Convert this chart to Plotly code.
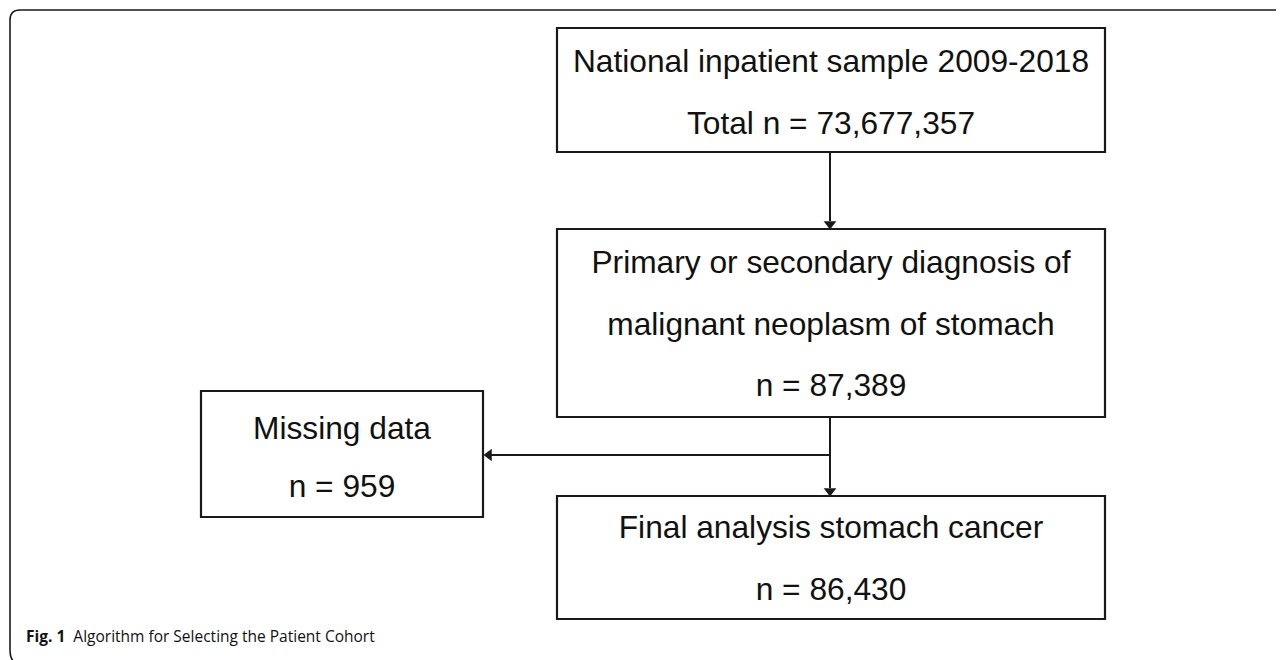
import plotly.graph_objects as go

# ---- data ----
box_titles = [
    ["National inpatient sample 2009-2018"],
    ["Primary or secondary diagnosis of", "malignant neoplasm of stomach"],
    ["Missing data"],
    ["Final analysis stomach cancer"],
]
box_counts = [73677357, 87389, 959, 86430]
count_prefix = ["Total n = ", "n = ", "n = ", "n = "]
caption_label = "Fig. 1"
caption_text = "Algorithm for Selecting the Patient Cohort"

# ---- layout geometry (page pixels; the page body has an 8px margin) ----
W, H = 1284, 660
OFF = 8
boxes = [  # x0, y0, x1, y1
    (557, 28, 1105, 152),
    (557, 229, 1105, 417),
    (201, 391, 483, 517),
    (557, 496, 1105, 619),
]
line_gap = [62, 61.5, 58, 62]
text_shift = [5, 4, 6, 4]
ink = "#1a1a1a"
box_font = dict(family="Liberation Sans, Arial, sans-serif", size=31.7, color="#111111")

fig = go.Figure()
shapes = []
for (x0, y0, x1, y1) in boxes:
    shapes.append(dict(type="rect", xref="x", yref="y", x0=x0, y0=y0, x1=x1, y1=y1,
                       line=dict(color=ink, width=2.2), fillcolor="rgba(0,0,0,0)"))

# text lines in each box
for i, (x0, y0, x1, y1) in enumerate(boxes):
    lines = box_titles[i] + [f"{count_prefix[i]}{box_counts[i]:,}"]
    cx = (x0 + x1) / 2
    cy = (y0 + y1) / 2 + text_shift[i]
    n = len(lines)
    g = line_gap[i]
    ys = [cy + (k - (n - 1) / 2) * g for k in range(n)]
    fig.add_trace(go.Scatter(x=[cx] * n, y=ys, mode="text", text=lines,
                             textposition="middle center", textfont=box_font,
                             hoverinfo="skip", showlegend=False))

# connectors
ax = 830
split_y = 455
shapes.append(dict(type="line", xref="x", yref="y", x0=ax, y0=boxes[0][3], x1=ax, y1=boxes[1][1] - 8,
                   line=dict(color=ink, width=2)))
shapes.append(dict(type="line", xref="x", yref="y", x0=ax, y0=boxes[1][3], x1=ax, y1=boxes[3][1] - 8,
                   line=dict(color=ink, width=2)))
shapes.append(dict(type="line", xref="x", yref="y", x0=ax, y0=split_y, x1=boxes[2][2] + 8, y1=split_y,
                   line=dict(color=ink, width=2)))

# arrowheads
fig.add_trace(go.Scatter(x=[ax, ax], y=[boxes[1][1] - 5, boxes[3][1] - 5], mode="markers",
                         marker=dict(symbol="triangle-down", size=11, color=ink, line=dict(width=0)),
                         hoverinfo="skip", showlegend=False))
fig.add_trace(go.Scatter(x=[boxes[2][2] + 6], y=[split_y], mode="markers",
                         marker=dict(symbol="triangle-left", size=11, color=ink, line=dict(width=0)),
                         hoverinfo="skip", showlegend=False))

# outer frame with rounded top-left corner
shapes.append(dict(type="path", xref="x", yref="y",
                   path="M 1290 10 L 20 10 Q 10 10 10 20 L 10 651 Q 10 657 13 661",
                   line=dict(color=ink, width=1.6)))

fig.add_annotation(x=24, y=636, xref="x", yref="y", xanchor="left", yanchor="middle",
                   text=f"<b>{caption_label}</b>  {caption_text}", showarrow=False,
                   font=dict(family="Open Sans, Noto Sans, sans-serif", size=15.5, color="#111111"))

fig.update_layout(
    width=W - OFF, height=H - OFF, margin=dict(l=0, r=0, t=0, b=0),
    paper_bgcolor="white", plot_bgcolor="white", shapes=shapes,
    xaxis=dict(range=[OFF, W], visible=False, fixedrange=True),
    yaxis=dict(range=[H, OFF], visible=False, fixedrange=True),
    showlegend=False,
)
fig.write_html("out.html")
